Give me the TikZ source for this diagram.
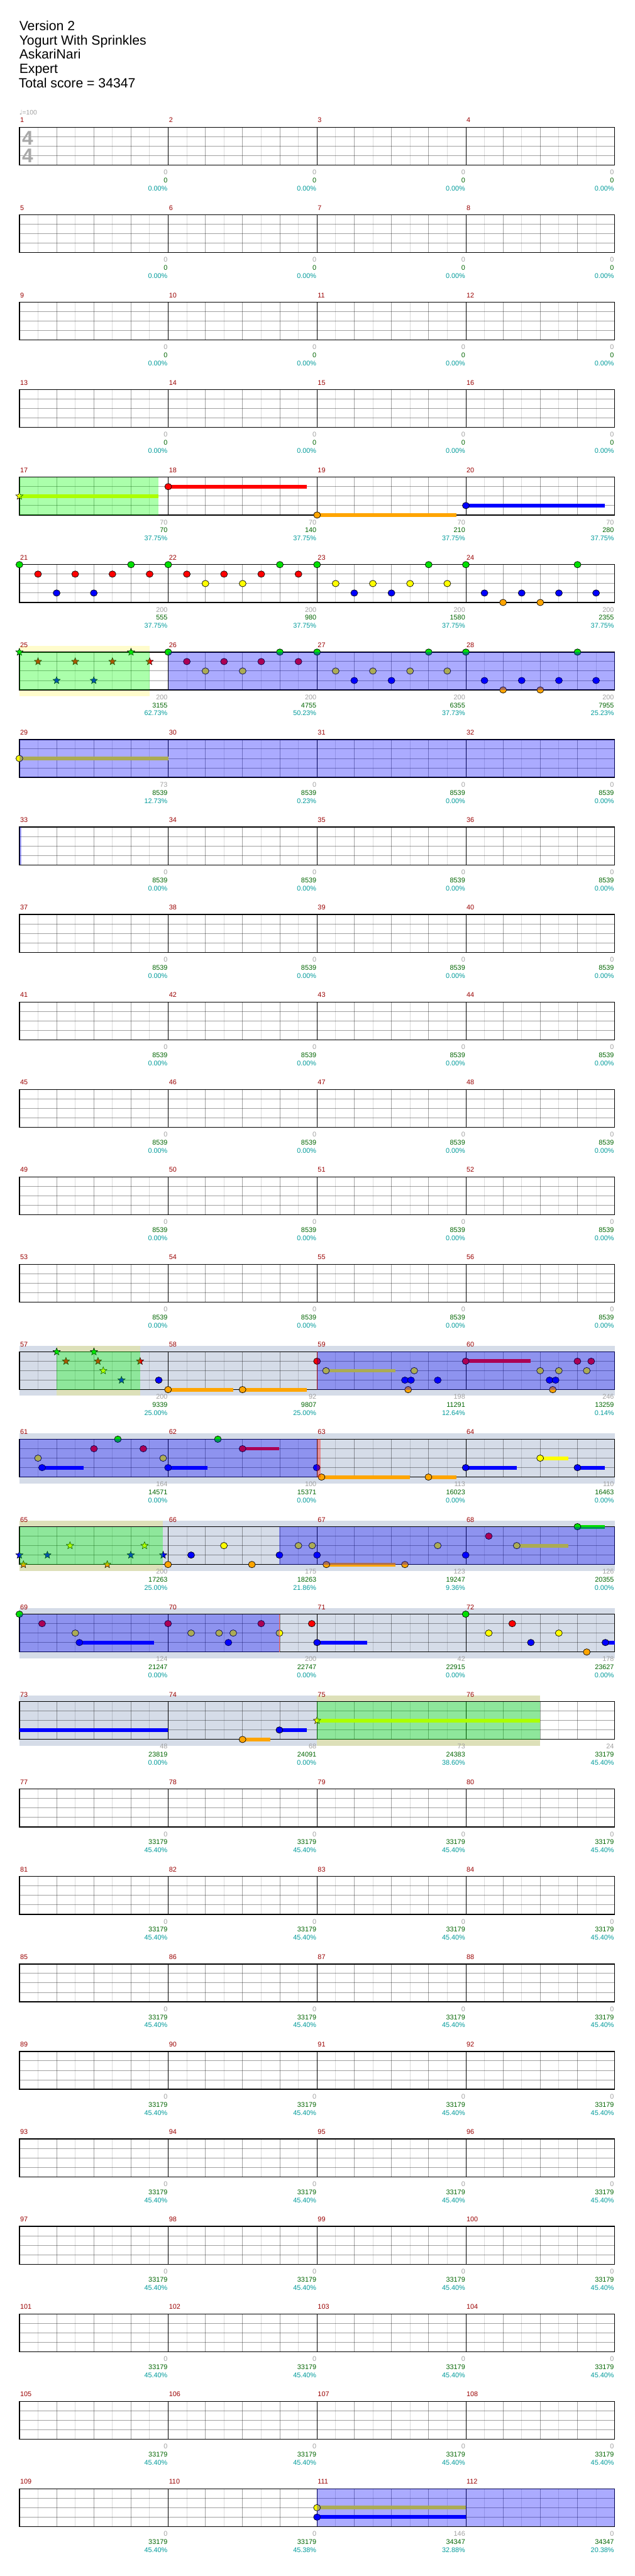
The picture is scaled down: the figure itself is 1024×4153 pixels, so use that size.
\documentclass[tikz,border=0pt]{standalone}
\usepackage{fontspec}
\setmainfont{Liberation Sans}
\newfontfamily\notefont{DejaVu Sans}
\usepackage{xcolor}
\usepackage{tikz}
\usetikzlibrary{shapes.geometric}
\definecolor{gemgreen}{HTML}{00E000}
\definecolor{gemred}{HTML}{FF0000}
\definecolor{gemyellow}{HTML}{FFFF00}
\definecolor{gemblue}{HTML}{0000FF}
\definecolor{gemorange}{HTML}{FFA500}
\colorlet{lane0}{gemgreen}
\colorlet{lane1}{gemred}
\colorlet{lane2}{gemyellow}
\colorlet{lane3}{gemblue}
\colorlet{lane4}{gemorange}
\definecolor{barred}{HTML}{990000}
\definecolor{scoregray}{HTML}{A0A0A0}
\definecolor{scoregreen}{HTML}{006400}
\definecolor{scoreteal}{HTML}{009A9A}
\definecolor{sigray}{HTML}{A8A8A8}
\definecolor{solobg}{HTML}{D5DCE8}
\definecolor{spgreen}{HTML}{00FF00}
\definecolor{odblue}{HTML}{0000FF}
\tikzset{
  headtext/.style={anchor=base west, inner sep=0pt, font=\fontsize{21.5}{26}\selectfont},
  tempomark/.style={anchor=base west, inner sep=0pt, text=scoregray, font=\fontsize{10.5}{12}\selectfont},
  timesig/.style={anchor=base, inner sep=0pt, text=sigray, font=\fontsize{32}{36}\selectfont\bfseries},
  barnum/.style={anchor=base west, inner sep=0pt, text=barred, font=\fontsize{11}{13}\selectfont},
  ptsval/.style={anchor=base east, inner sep=0pt, text=scoregray, font=\fontsize{11}{13}\selectfont},
  totval/.style={ptsval, text=scoregreen},
  pctval/.style={ptsval, text=scoreteal},
  eighthline/.style={draw=black, draw opacity=0.14, line width=1pt},
  beatline/.style={draw=black, draw opacity=0.37, line width=1pt},
  laneline/.style={beatline},
  barline/.style={draw=black, line width=1pt},
  staffbox/.style={draw=black, line width=1.3pt},
  gem/.style={draw=black, line width=0.7pt, fill=#1},
  starnote/.style={star, star points=5, star point ratio=2.3, minimum size=12.5pt, inner sep=0pt, draw=black, line width=0.5pt, fill=#1},
  solofill/.style={fill=solobg},
  phrasefill/.style={fill=yellow, fill opacity=0.2},
  spfill/.style={fill=spgreen, fill opacity=0.33},
  odfill/.style={fill=odblue, fill opacity=0.33}
}
\newcounter{starno}
% top and bottom of the staff of one line (4 bars)
\newcommand\rowtop[1]{\pgfmathsetmacro\ty{205.3+141*#1}\pgfmathsetmacro\tb{\ty+61}}
\newcommand\gemnote[3]{% line, x, lane
  \pgfmathsetmacro\gy{205.3+141*#1+15.25*#3}
  \draw[gem=lane#3] (#2,\gy) ellipse (5.6pt and 5.2pt);}
\newcommand\gemtail[4]{% line, x from, x to, lane
  \pgfmathsetmacro\gy{205.3+141*#1+15.25*#4}
  \fill[lane#4] (#2,{\gy-3}) rectangle (#3,{\gy+3});}
\newcommand\gemstar[3]{% line, x, lane
  \pgfmathsetmacro\gy{205.3+141*#1+15.25*#3}
  \stepcounter{starno}
  \node[starnote=lane#3] (star\thestarno) at (#2,\gy) {};}
\newcommand\rowscores[2]{\rowtop{#1}
  \foreach \pts/\tot/\pct [count=\m] in {#2}{
    \node[ptsval] (pts-#1-\m) at (30.3+240*\m,\tb+15.3) {\pts};
    \node[totval] (tot-#1-\m) at (30.3+240*\m,\tb+28.4) {\tot};
    \node[pctval] (pct-#1-\m) at (30.3+240*\m,\tb+41.5) {\pct};}}
\newcommand\solozone[3]{\rowtop{#1}\fill[solofill] (#2,\ty-10) rectangle (#3,\tb+10);}
\newcommand\phrasezone[3]{\rowtop{#1}
  \fill[phrasefill] (#2,\ty-10) rectangle (#3,\ty);
  \fill[phrasefill] (#2,\tb) rectangle (#3,\tb+10);}
\newcommand\spzone[3]{\rowtop{#1}\fill[spfill] (#2,\ty) rectangle (#3,\tb);}
\newcommand\odzone[3]{\rowtop{#1}\fill[odfill] (#2,\ty) rectangle (#3,\tb);}

\begin{document}
\begin{tikzpicture}[x=1pt,y=-1pt]
  \useasboundingbox (0,0) rectangle (1024,4153);

  % header
  \node[headtext] (version) at (31,49.3) {Version 2};
  \node[headtext] (song) at (31,72.3) {Yogurt With Sprinkles};
  \node[headtext] (artist) at (31,95.3) {AskariNari};
  \node[headtext] (level) at (31,118.3) {Expert};
  \node[headtext] (total) at (30,141.3) {Total score = 34347};
  \node[tempomark] (tempo) at (31,185) {{\notefont ♩}=100};

  % solo sections and phrase bands go under the staves
  \solozone{14}{31.3}{991.3}
  \solozone{15}{31.3}{991.3}
  \solozone{16}{31.3}{991.3}
  \solozone{17}{31.3}{991.3}
  \solozone{18}{31.3}{871.1}
  \phrasezone{6}{31.3}{241.7}
  \phrasezone{14}{91.4}{226.0}
  \phrasezone{16}{31.3}{263.1}
  \phrasezone{18}{511.3}{871.1}

  % staves
  \foreach \k in {0,...,27}{
    \rowtop{\k}
    \foreach \e in {1,3,...,31}
      \draw[eighthline] (31.3+30*\e,\ty) -- (31.3+30*\e,\tb);
    \foreach \e in {2,4,6,10,12,14,18,20,22,26,28,30}
      \draw[beatline] (31.3+30*\e,\ty) -- (31.3+30*\e,\tb);
    \foreach \l in {1,2,3}
      \draw[laneline] (31.3,\ty+15.25*\l) -- (991.3,\ty+15.25*\l);
    \foreach \m in {1,2,3}
      \draw[barline] (31.3+240*\m,\ty) -- (31.3+240*\m,\tb);
    \draw[staffbox] (31.3,\ty) rectangle (991.3,\tb);
    \foreach \m in {0,...,3}{
      \pgfmathtruncatemacro\num{4*\k+\m+1}
      \node[barnum] (bar\num) at (32.3+240*\m,\ty-7.6) {\num};
    }
  }
  \node[timesig] (sigtop) at (44.5,233.3) {4};
  \node[timesig] (sigbot) at (44.5,262.3) {4};

  % scores under each bar
  \foreach \k in {0,...,3}{
    \rowscores{\k}{0/0/0.00\%,0/0/0.00\%,0/0/0.00\%,0/0/0.00\%}}
  \rowscores{4}{70/70/37.75\%,70/140/37.75\%,70/210/37.75\%,70/280/37.75\%}
  \rowscores{5}{200/555/37.75\%,200/980/37.75\%,200/1580/37.75\%,200/2355/37.75\%}
  \rowscores{6}{200/3155/62.73\%,200/4755/50.23\%,200/6355/37.73\%,200/7955/25.23\%}
  \rowscores{7}{73/8539/12.73\%,0/8539/0.23\%,0/8539/0.00\%,0/8539/0.00\%}
  \foreach \k in {8,...,13}{
    \rowscores{\k}{0/8539/0.00\%,0/8539/0.00\%,0/8539/0.00\%,0/8539/0.00\%}}
  \rowscores{14}{200/9339/25.00\%,92/9807/25.00\%,198/11291/12.64\%,246/13259/0.14\%}
  \rowscores{15}{164/14571/0.00\%,100/15371/0.00\%,113/16023/0.00\%,110/16463/0.00\%}
  \rowscores{16}{200/17263/25.00\%,175/18263/21.86\%,123/19247/9.36\%,126/20355/0.00\%}
  \rowscores{17}{124/21247/0.00\%,200/22747/0.00\%,42/22915/0.00\%,178/23627/0.00\%}
  \rowscores{18}{48/23819/0.00\%,68/24091/0.00\%,73/24383/38.60\%,24/33179/45.40\%}
  \foreach \k in {19,...,26}{
    \rowscores{\k}{0/33179/45.40\%,0/33179/45.40\%,0/33179/45.40\%,0/33179/45.40\%}}
  \rowscores{27}{0/33179/45.40\%,0/33179/45.38\%,146/34347/32.88\%,0/34347/20.38\%}

  % bars 17-20
  \gemtail{4}{31.3}{256.0}{2}\gemstar{4}{31.3}{2}
  \gemtail{4}{271.3}{495.1}{1}\gemnote{4}{271.3}{1}
  \gemtail{4}{511.3}{736.1}{4}\gemnote{4}{511.3}{4}
  \gemtail{4}{751.3}{975.2}{3}\gemnote{4}{751.3}{3}

  % bars 21-28: same riff twice, first bar of the repeat as stars
  \foreach \p/\l [count=\i] in {0/0,1/1,2/3,3/1,4/3,5/1,6/0,7/1,8/0,9/1,10/2,11/1,12/2,13/1,14/0,15/1,
      16/0,17/2,18/3,19/2,20/3,21/2,22/0,23/2,24/0,25/3,26/4,27/3,28/4,29/3,30/0,31/3}{
    \gemnote{5}{31.3+30*\p}{\l}
    \ifnum\i<9 \gemstar{6}{31.3+30*\p}{\l}\else\gemnote{6}{31.3+30*\p}{\l}\fi
  }

  % bar 29
  \gemtail{7}{31.3}{271.3}{2}\gemnote{7}{31.3}{2}

  % bars 57-60
  \foreach \x/\l in {91.4/0,106.4/1,151.5/0,158.0/1,166.5/2,195.9/3,225.9/1}{
    \gemstar{14}{\x}{\l}}
  \gemtail{14}{271.0}{376.1}{4}
  \gemtail{14}{391.1}{495.0}{4}
  \gemtail{14}{525.7}{638.0}{2}
  \gemtail{14}{751.0}{855.5}{1}
  \foreach \x/\l in {256.0/3,271.0/4,391.1/4,511.3/1,525.7/2,653.0/3,658.2/4,662.8/3,668.0/2,705.9/3,
      751.0/1,871.1/2,886.2/3,891.4/4,896.0/3,901.2/2,931.2/1,946.2/2,953.4/1}{
    \gemnote{14}{\x}{\l}}

  % bars 61-64
  \gemtail{15}{67.9}{135.1}{3}
  \gemtail{15}{271.0}{335.0}{3}
  \gemtail{15}{391.1}{450.6}{1}
  \gemtail{15}{518.5}{660.9}{4}
  \gemtail{15}{690.9}{736.0}{4}
  \gemtail{15}{751.0}{833.2}{3}
  \gemtail{15}{871.1}{916.2}{2}
  \gemtail{15}{931.2}{975.0}{3}
  \foreach \x/\l in {61.3/2,67.9/3,151.5/1,190.0/0,231.1/1,263.1/2,271.0/3,351.3/0,391.1/1,
      510.7/3,518.5/4,690.9/4,751.0/3,871.1/2,931.2/3}{
    \gemnote{15}{\x}{\l}}

  % bars 65-68
  \foreach \x/\l in {31.3/3,37.8/4,76.4/3,112.9/2,173.0/4,210.9/3,233.1/2,263.1/3}{
    \gemstar{16}{\x}{\l}}
  \gemtail{16}{526.3}{638.0}{4}
  \gemtail{16}{833.3}{916.2}{2}
  \gemtail{16}{931.2}{975.0}{0}
  \foreach \x/\l in {271.0/4,308.2/3,361.1/2,406.2/4,450.6/3,481.3/2,503.5/2,511.3/3,526.3/4,
      653.0/4,705.9/2,751.0/3,788.2/1,833.3/2,931.2/0}{
    \gemnote{16}{\x}{\l}}

  % bars 69-72
  \gemtail{17}{128.0}{248.1}{3}
  \gemtail{17}{511.3}{592.3}{3}
  \gemtail{17}{976.3}{991.3}{3}
  \foreach \x/\l in {31.3/0,67.9/1,121.4/2,128.0/3,271.0/1,308.2/2,353.3/2,368.3/3,376.1/2,
      421.2/1,450.6/2,502.8/1,511.3/3,751.0/0,788.2/2,826.1/1,856.1/3,901.2/2,946.2/4,976.3/3}{
    \gemnote{17}{\x}{\l}}

  % bars 73-76
  \gemtail{18}{31.3}{271.0}{3}
  \gemtail{18}{391.1}{436.2}{4}\gemnote{18}{391.1}{4}
  \gemtail{18}{450.6}{495.0}{3}\gemnote{18}{450.6}{3}
  \gemtail{18}{511.3}{871.1}{2}\gemstar{18}{511.3}{2}

  % bars 111-112
  \gemtail{27}{511.3}{751.0}{2}\gemnote{27}{511.3}{2}
  \gemtail{27}{511.3}{751.0}{3}\gemnote{27}{511.3}{3}

  % star power phrases and overdrive on top
  \spzone{4}{31.3}{256.0}
  \spzone{6}{31.3}{241.7}
  \spzone{14}{91.4}{226.0}
  \spzone{16}{31.3}{263.1}
  \spzone{18}{511.3}{871.1}
  \odzone{6}{271.3}{991.3}
  \odzone{7}{31.3}{991.3}
  \odzone{8}{31.3}{34.6}
  \odzone{14}{511.3}{991.3}
  \odzone{15}{31.3}{511.3}
  \odzone{16}{450.6}{991.3}
  \odzone{17}{31.3}{450.6}
  \odzone{27}{511.3}{991.3}

  % activation marks
  \rowtop{14}
  \draw[barred, line width=1pt] (511.3,\ty) -- (511.3,\tb);
  \rowtop{15}
  \fill[red, fill opacity=0.35] (511.3,\ty) rectangle (517.5,\tb);
  \rowtop{17}
  \draw[red!60, line width=0.7pt] (450.6,\ty) -- (450.6,\tb);
\end{tikzpicture}
\end{document}
